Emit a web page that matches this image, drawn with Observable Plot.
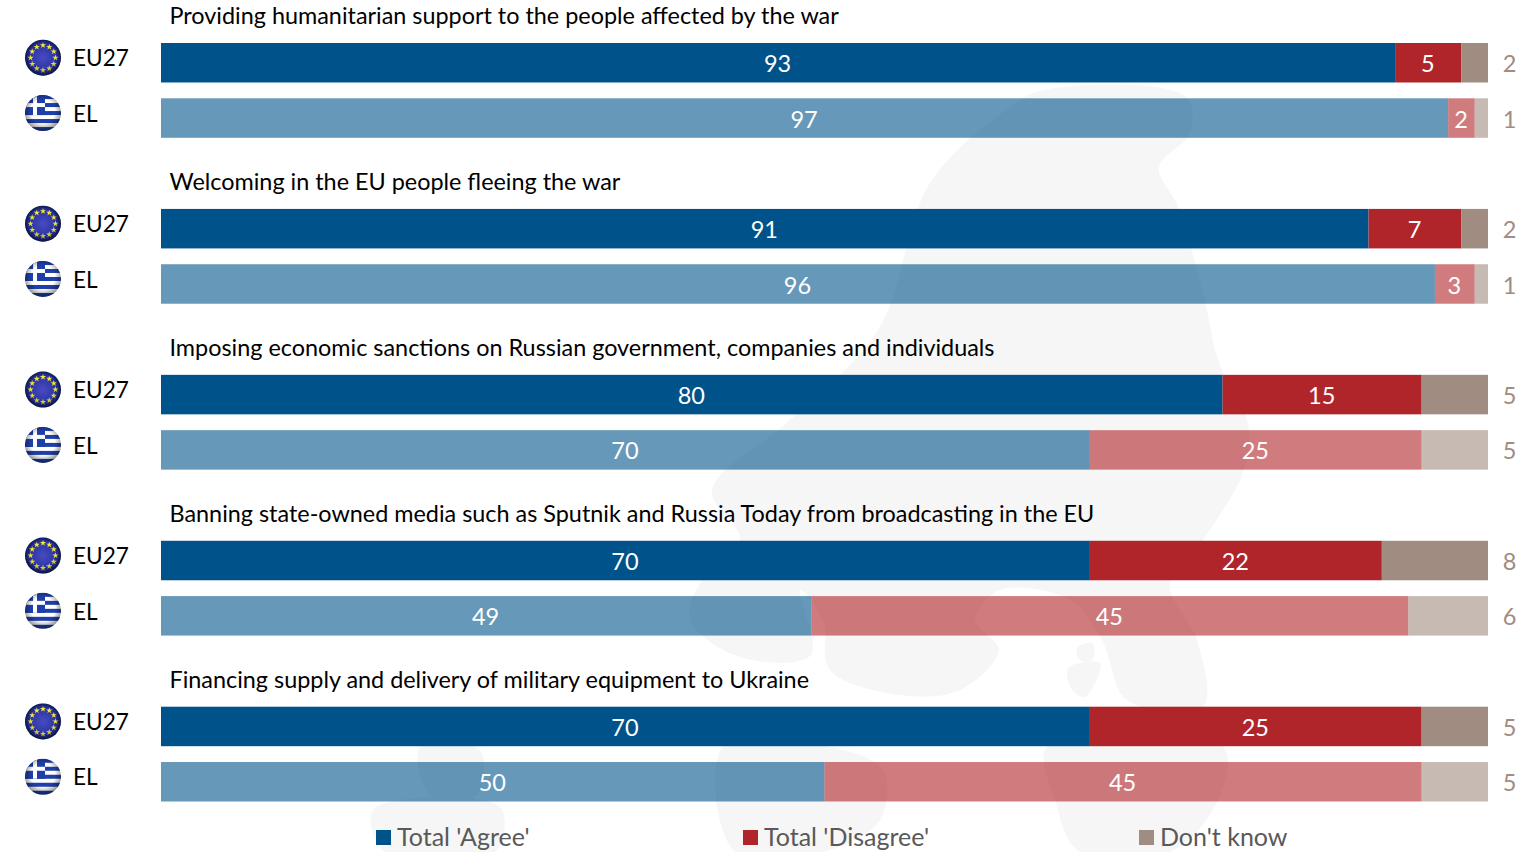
<!DOCTYPE html>
<html>
<head>
<meta charset="utf-8">
<script src="https://cdn.jsdelivr.net/npm/d3@7"></script>
<script src="https://cdn.jsdelivr.net/npm/@observablehq/plot@0.6"></script>
<style>
html,body{margin:0;padding:0;background:#fff;overflow:hidden}
#stage{position:relative;width:1535px;height:852px;font-family:Lato,sans-serif}
#map{position:absolute;left:0;top:0}
#chart{position:absolute;left:0;top:0}
.key{position:absolute;top:821px;height:30px;line-height:30px;font-size:25px;color:#595959;white-space:nowrap}
.key i{position:absolute;left:0;top:9px;width:15px;height:15px}
.key span{position:absolute;left:21px;top:0}
</style>
</head>
<body>
<div id="stage">
<svg id="map" width="1535" height="852"></svg>
<div id="chart"></div>
</div>
<script>
const questions = [
  "Providing humanitarian support to the people affected by the war",
  "Welcoming in the EU people fleeing the war",
  "Imposing economic sanctions on Russian government, companies and individuals",
  "Banning state-owned media such as Sputnik and Russia Today from broadcasting in the EU",
  "Financing supply and delivery of military equipment to Ukraine"
];
const geos = ["EU27", "EL"];
const seriesNames = ["Total 'Agree'", "Total 'Disagree'", "Don't know"];
const seriesColors = ["#00538a", "#b0252a", "#a08c80"];
const agreeEU = [93, 91, 80, 70, 70];
const disagreeEU = [5, 7, 15, 22, 25];
const dkEU = [2, 2, 5, 8, 5];
const agreeEL = [97, 96, 70, 49, 50];
const disagreeEL = [2, 3, 25, 45, 45];
const dkEL = [1, 1, 5, 6, 5];

// Faint decorative backdrop: a rough sketch of the map behind the bars (not data).
const backdrop = [
  [[1044,90],[1186,97],[1190,133],[1159,167],[1178,207],[1204,297],[1219,363],[1248,423],[1244,470],[1203,540],[1170,585],[1197,640],[1203,707],[1127,700],[1102,640],[1070,600],[1000,590],[975,620],[999,650],[960,690],[900,695],[830,670],[823,620],[800,590],[811,655],[740,657],[690,620],[700,583],[740,540],[712,490],[790,420],[878,330],[930,183],[1006,110]],
  [[723,747],[830,747],[883,770],[880,820],[823,852],[735,852]],
  [[1047,747],[1223,747],[1218,800],[1170,852],[1080,852],[1055,800]],
  [[420,747],[480,750],[475,797],[430,795]],
  [[373,810],[500,807],[495,852],[385,852]],
  [[1068,668],[1100,663],[1085,697],[1072,690]],
  [[1077,648],[1093,643],[1092,660],[1080,660]]
];
const outline = d3.line().curve(d3.curveCatmullRomClosed.alpha(0.5));
d3.select("#map").selectAll("path").data(backdrop).join("path").attr("d", outline).attr("fill", "#f6f6f6");

const table = {EU27: [agreeEU, disagreeEU, dkEU], EL: [agreeEL, disagreeEL, dkEL]};
const rowKey = (i, g) => i + "|" + g;
const rowDomain = [];
questions.forEach((q, i) => {
  if (i) rowDomain.push("gap" + i);
  geos.forEach(g => rowDomain.push(rowKey(i, g)));
});
const data = [];
questions.forEach((q, i) => geos.forEach(g => seriesNames.forEach((s, k) =>
  data.push({row: rowKey(i, g), geo: g, series: s, value: table[g][k][i]}))));
const rows = questions.flatMap((q, i) => geos.map(g => ({row: rowKey(i, g), geo: g, question: q, dk: table[g][2][i]})));
const titleRows = rows.filter(d => d.geo === "EU27");
const barPadding = 0.286;

function flags(index, scales) {
  const svg = d3.create("svg:g");
  const defs = svg.append("defs");
  const rg = defs.append("radialGradient").attr("id", "gloss").attr("cx", "50%").attr("cy", "45%").attr("r", "55%");
  rg.append("stop").attr("offset", "0.6").attr("stop-color", "#000").attr("stop-opacity", 0);
  rg.append("stop").attr("offset", "1").attr("stop-color", "#000").attr("stop-opacity", 0.45);
  const eu = defs.append("radialGradient").attr("id", "euBlue").attr("cx", "50%").attr("cy", "50%").attr("r", "55%");
  eu.append("stop").attr("offset", "0").attr("stop-color", "#4a4ac0");
  eu.append("stop").attr("offset", "0.75").attr("stop-color", "#2432a0");
  eu.append("stop").attr("offset", "1").attr("stop-color", "#0c1a5c");
  defs.append("clipPath").attr("id", "disc").append("circle").attr("r", 18);
  const R = 18;
  const bandwidth = (scales.y(rowDomain[1]) - scales.y(rowDomain[0])) * (1 - barPadding);
  rows.forEach(d => {
    const cy = scales.y(d.row) + bandwidth / 2 - 5;
    const g = svg.append("g").attr("transform", `translate(43,${cy})`);
    if (d.geo === "EU27") {
      g.append("circle").attr("r", R).attr("fill", "url(#euBlue)");
      d3.range(12).forEach(k => {
        const a = k * Math.PI / 6;
        g.append("path").attr("d", d3.symbol(d3.symbolStar, 12)())
          .attr("fill", "#f7e63a")
          .attr("transform", `translate(${12.5 * Math.sin(a)},${-12.5 * Math.cos(a)})`);
      });
    } else {
      const f = g.append("g").attr("clip-path", "url(#disc)");
      f.append("rect").attr("x", -R).attr("y", -R).attr("width", 2 * R).attr("height", 2 * R).attr("fill", "#fff");
      [0, 2, 4, 6, 8].forEach(k => f.append("rect").attr("x", -R).attr("y", -R + k * 4).attr("width", 2 * R).attr("height", 4).attr("fill", "#1f3fa8"));
      f.append("rect").attr("x", -R).attr("y", -R).attr("width", 20).attr("height", 20).attr("fill", "#1f3fa8");
      f.append("rect").attr("x", -R + 8).attr("y", -R).attr("width", 4).attr("height", 20).attr("fill", "#fff");
      f.append("rect").attr("x", -R).attr("y", -R + 8).attr("width", 20).attr("height", 4).attr("fill", "#fff");
    }
    g.append("circle").attr("r", R).attr("fill", "url(#gloss)");
  });
  return svg.node();
}

const barStack = o => Plot.stackX({x: "value", y: "row", z: "series", order: seriesNames, ...o});

const plot = Plot.plot({
  width: 1535,
  height: 852,
  margin: 0,
  style: {background: "transparent", fontFamily: "Lato, sans-serif", overflow: "visible"},
  x: {domain: [0, 100], range: [161, 1488], axis: null},
  y: {domain: rowDomain, range: [43, 801.5], paddingInner: barPadding, paddingOuter: 0, round: false, axis: null},
  color: {domain: seriesNames, range: seriesColors},
  marks: [
    Plot.barX(data, barStack({fill: "series", fillOpacity: d => d.geo === "EL" ? 0.6 : 1})),
    Plot.text(data, barStack({
      text: d => d.series === "Don't know" ? null : String(d.value),
      fill: "#fff", fontSize: 23.5, dy: 1.5, dx: -1
    })),
    Plot.text(rows, {x: () => 100, y: "row", text: d => String(d.dk), dx: 21, dy: 1.5, fill: "#a08c80", fontSize: 23.5}),
    Plot.text(rows, {x: () => 0, y: "row", text: "geo", dx: -88.5, dy: -4, textAnchor: "start", fill: "#000", fontSize: 22.6}),
    Plot.text(titleRows, {x: () => 0, y: "row", text: "question", dx: 8, dy: -46.5, textAnchor: "start", fill: "#000", fontSize: 23.4}),
    flags
  ]
});
document.getElementById("chart").append(plot);

const legendLeft = [376, 743, 1139];
const stage = document.getElementById("stage");
seriesNames.forEach((s, k) => {
  const d = document.createElement("div");
  d.className = "key";
  d.style.left = legendLeft[k] + "px";
  const i = document.createElement("i");
  i.style.background = seriesColors[k];
  const t = document.createElement("span");
  t.textContent = s;
  d.append(i, t);
  stage.append(d);
});
</script>
</body>
</html>
